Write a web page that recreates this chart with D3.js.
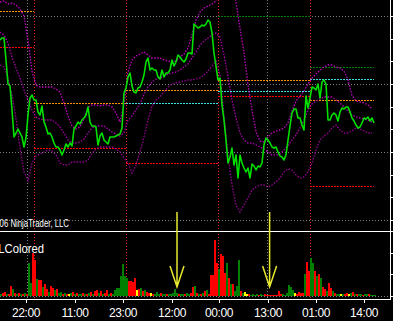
<!DOCTYPE html>
<html>
<head>
<meta charset="utf-8">
<script src="https://cdnjs.cloudflare.com/ajax/libs/d3/7.8.5/d3.min.js"></script>
<style>
    html, body { margin: 0; padding: 0; background: #000; overflow: hidden; }
    svg { display: block; }
    text { font-family: "Liberation Sans", Arial, sans-serif; fill: #fff; }
</style>
</head>
<body>
<svg></svg>
<script>
const width = 393;
const height = 321;

// one close per bar
const close = [
    190,192,192,170,146,144,120,93,97,101, 97,93,83,92,115,132,135,130,130,118,
    115,124,108,103,96,97,93,87,83,83, 80,75,80,86,83,87,84,101,104,108,
    106,110,112,115,123,108,104,104,103,85, 94,97,90,88,86,93,93,93,94,95,
    96,102,137,142,153,157,144,138,137,142, 143,148,155,168,172,160,162,160,160,153,
    151,160,153,157,157,160,170,164,168,175, 173,170,168,171,177,177,176,206,204,202,
    203,205,204,206,210,208,197,177,164,150, 152,125,110,90,67,73,82,65,75,52,
    75,67,62,58,62,52,66,64,60,64, 63,67,85,92,90,87,83,82,83,78,
    74,73,70,75,90,104,117,121,121,112, 112,105,100,134,122,132,143,142,140,146,
    132,148,150,146,110,110,115,117,115,109, 118,122,121,123,123,118,112,109,105,102,
    103,107,112,111,113,109,112,107
];

// bollinger lines, one value every 2 bars
const bandUpper = [
    228,229,226,227,225,221,214,190,159,145, 143,143,143,143,141,138,127,114,104,101,
    103,111,123,125,125,124,125,125,123,117, 108,125,158,170,174,176,178,175,172,172,
    172,170,169,168,169,173,176,182,195,210, 218,222,224,226,229,250,268,268,248,228,
    202,177,145,120,98,89,88,93,97,99, 100,102,107,119,129,134,139,146,152,156,
    160,163,165,165,163,162,159,150,135,129, 128,127,125,121
];
const bandMiddle = [
    198,195,187,173,162,152,140,130,120,113, 111,110,110,110,107,103,97,90,87,87,
    88,91,97,102,104,104,104,101,98,96, 94,97,110,114,120,126,136,143,148,151,
    152,154,156,157,158,160,163,166,172,178, 185,189,192,195,197,193,175,153,130,112,
    97,90,87,87,85,83,81,78,75,75, 76,80,84,90,95,102,110,120,126,129,
    131,133,133,133,130,127,123,119,115,113, 112,111,110,108
];
const bandLower = [
    165,163,152,135,112,82,58,49,67,74, 76,78,80,79,75,67,65,65,68,68,
    68,68,70,77,81,83,83,83,83,81, 78,72,67,57,65,78,93,110,124,130,
    133,138,143,146,147,148,149,150,150,151, 152,155,159,164,169,155,115,75,45,25,
    18,25,32,40,43,45,45,43,45,48, 52,58,61,60,55,52,53,58,67,80,
    90,94,97,102,105,100,97,97,99,102, 101,99,97,97
];

const volume = [
    2,3,4,2,2,10,7,3,2,3, 2,2,3,2,33,13,43,36,17,16,
    16,9,12,7,4,10,8,6,7,3, 4,2,3,2,2,3,4,2,3,2,
    2,3,2,2,3,4,2,5,6,3, 5,2,3,6,2,3,2,6,8,8,
    20,32,20,18,15,15,14,18,6,7, 8,5,6,4,3,3,2,2,4,2,
    3,2,2,2,2,2,3,7,3,2, 2,2,2,3,2,3,9,10,3,2,
    2,3,5,6,2,21,21,56,33,27, 42,40,23,33,18,12,12,5,10,36,
    5,3,4,2,2,1,2,1,2,1, 2,1,2,1,1,1,1,1,1,5,
    2,2,1,3,11,9,6,3,2,4, 3,3,22,34,25,38,33,25,20,22,
    18,9,7,5,13,8,5,3,2,2, 2,2,2,3,2,3,4,2,2,2,
    2,1,2,2,2,1,1,1
];
// g = up, r = down, y = unchanged
const volumeDir = (
    "grrgrrgrgr" + "grgrggrrgr" + "rgrrgrrgrg" + "grgrygrgrg" + "grgrgrgrrg" +
    "rgrrgrgggg" + "ggggrrrryr" + "grgrryrggg" + "rggrgggggr" + "ggrggrrgrg" +
    "rgrgrrrrrg" + "rrrgrgrggg" + "rgyyrggggr" + "ggrrrrrrrr" + "rggggggyrr" +
    "rrgrrggrgr" + "grrgrrgrgg" + "ygrrygrgrg" + "grggrggg"
).split("");

// session start bars (red dotted lines) and pivot levels per session
const sessionStart = [0, 17, 63, 109, 155];
const sessionEnd = [17, 63, 109, 155, 187];
const levelOrange = [219, 127, 140, 150, 130];
const levelRed = [183, 82, 67, 134, 44];
const levelCyan = [null, null, 127, 139, 151];
const levelGreen = [null, null, null, 214, 163];

const tickBars = [13, 37.5, 61.5, 86, 109.5, 134, 158, 182];
const tickLabels = ["22:00", "11:00", "23:00", "12:00", "00:00", "13:00", "01:00", "14:00"];
const gridBars = [13.5, 133.5];
const priceTicks = d3.range(10, 231, 68 / 3);
const volumeTicks = [0, 65 / 3, 130 / 3, 65];

// arrows drawn by hand on the chart, in volume units
const arrowBars = [88.5, 134.8];
const arrowTop = 84;
const arrowTip = 9;
const arrowWing = 30;

const axisX = 390.5;
const priceBottom = 231;
const axisBottom = 299;

const svg = d3.select("svg").attr("width", width).attr("height", height);

svg.append("rect").attr("width", width).attr("height", height).attr("fill", "#000");

const x = d3.scaleLinear().domain([0, 195]).range([0, 390]);
const y = d3.scaleLinear().domain([0, 230]).range([230, 0]);
const yVol = d3.scaleLinear().domain([0, 65]).range([296, 231]);

svg.append("clipPath").attr("id", "clip-price")
    .append("rect").attr("x", 0).attr("y", 0).attr("width", axisX).attr("height", priceBottom);

const grid = svg.append("g").attr("shape-rendering", "crispEdges");

// grey grid
grid.selectAll("line.hgrid")
    .data(priceTicks.filter((d, i) => i % 3 === 0).concat([null]))
    .enter()
    .append("line")
    .attr("x1", 0)
    .attr("x2", axisX)
    .attr("y1", d => (d === null ? yVol(0) : y(d)) + 0.5)
    .attr("y2", d => (d === null ? yVol(0) : y(d)) + 0.5)
    .attr("stroke", "#808080")
    .attr("stroke-dasharray", "1,2");

grid.selectAll("line.vgrid")
    .data(gridBars)
    .enter()
    .append("line")
    .attr("x1", d => Math.round(x(d)) + 0.5)
    .attr("x2", d => Math.round(x(d)) + 0.5)
    .attr("y1", 0)
    .attr("y2", axisBottom)
    .attr("stroke", "#808080")
    .attr("stroke-dasharray", "1,2");

// session breaks
grid.selectAll("line.session")
    .data(sessionStart.slice(1))
    .enter()
    .append("line")
    .attr("x1", d => x(d) + 0.5)
    .attr("x2", d => x(d) + 0.5)
    .attr("y1", 0)
    .attr("y2", axisBottom)
    .attr("stroke", "#ff2020")
    .attr("stroke-dasharray", "1,2");

// pivot levels
const levels = [
    { values: levelGreen, color: "#008000" },
    { values: levelOrange, color: "#ff9000" },
    { values: levelCyan, color: "#40e0e0" },
    { values: levelRed, color: "#ff0000" }
];
levels.forEach(lv => {
    const rows = lv.values
        .map((v, i) => ({ v: v, s: sessionStart[i], e: sessionEnd[i] }))
        .filter(d => d.v !== null);
    grid.selectAll(null)
        .data(rows)
        .enter()
        .append("line")
        .attr("x1", d => x(d.s))
        .attr("x2", d => x(d.e))
        .attr("y1", d => Math.round(y(d.v)) + 0.5)
        .attr("y2", d => Math.round(y(d.v)) + 0.5)
        .attr("stroke", lv.color)
        .attr("stroke-dasharray", "2,1");
});

// bands and price
const plot = svg.append("g").attr("clip-path", "url(#clip-price)");

const bandLine = d3.line()
    .x((d, i) => x(i * 2))
    .y(d => y(d));

[
    [bandUpper, "#c400c4"],
    [bandMiddle, "#a800ac"],
    [bandLower, "#940094"]
].forEach(b => {
    plot.append("path")
        .attr("d", bandLine(b[0]))
        .attr("fill", "none")
        .attr("stroke", b[1])
        .attr("stroke-width", 1.3)
        .attr("stroke-dasharray", "1.5,1.5");
});

const priceLine = d3.line()
    .x((d, i) => x(i))
    .y(d => y(d));

plot.append("path")
    .attr("d", priceLine(close))
    .attr("fill", "none")
    .attr("stroke", "#00e000")
    .attr("stroke-width", 1.6)
    .attr("stroke-linejoin", "round");

// volume
const volColors = { g: "#008000", r: "#ff0000", y: "#ffff00" };
svg.append("g")
    .attr("shape-rendering", "crispEdges")
    .selectAll("rect")
    .data(volume)
    .enter()
    .append("rect")
    .attr("x", (d, i) => x(i))
    .attr("width", 2)
    .attr("y", d => yVol(d))
    .attr("height", d => yVol(0) - yVol(d))
    .attr("fill", (d, i) => volColors[volumeDir[i]]);

// frame
const frame = svg.append("g").attr("stroke", "#fff").attr("shape-rendering", "crispEdges");
frame.append("line").attr("x1", 0).attr("x2", axisX).attr("y1", priceBottom + 0.5).attr("y2", priceBottom + 0.5);
frame.append("line").attr("x1", 0).attr("x2", axisX).attr("y1", axisBottom + 0.5).attr("y2", axisBottom + 0.5);
frame.append("line").attr("x1", axisX).attr("x2", axisX).attr("y1", 0).attr("y2", axisBottom + 1);

frame.selectAll("line.pt")
    .data(priceTicks)
    .enter()
    .append("line")
    .attr("x1", axisX)
    .attr("x2", width)
    .attr("y1", d => Math.round(y(d)) + 0.5)
    .attr("y2", d => Math.round(y(d)) + 0.5);

frame.selectAll("line.vt")
    .data(volumeTicks)
    .enter()
    .append("line")
    .attr("x1", axisX)
    .attr("x2", width)
    .attr("y1", d => Math.round(yVol(d)) + 0.5)
    .attr("y2", d => Math.round(yVol(d)) + 0.5);

frame.selectAll("line.xt")
    .data(tickBars)
    .enter()
    .append("line")
    .attr("x1", d => Math.round(x(d)) + 0.5)
    .attr("x2", d => Math.round(x(d)) + 0.5)
    .attr("y1", axisBottom)
    .attr("y2", axisBottom + 4);

svg.selectAll("text.xl")
    .data(tickBars)
    .enter()
    .append("text")
    .attr("x", d => x(d))
    .attr("y", 317)
    .attr("text-anchor", "middle")
    .attr("font-size", 12)
    .attr("letter-spacing", -0.4)
    .text((d, i) => tickLabels[i]);

// chart copyright, cut by the left edge like the original
svg.append("text")
    .attr("x", 69)
    .attr("y", 227)
    .attr("text-anchor", "end")
    .attr("font-size", 10)
    .attr("textLength", 86)
    .attr("lengthAdjust", "spacingAndGlyphs")
    .text("\u00a9 2006 NinjaTrader, LLC");

svg.append("text")
    .attr("x", 44)
    .attr("y", 253)
    .attr("text-anchor", "end")
    .attr("font-size", 12)
    .attr("textLength", 62)
    .attr("lengthAdjust", "spacingAndGlyphs")
    .text("VOLColored");

// arrows
const arrows = svg.append("g")
    .attr("stroke", "#e8e830")
    .attr("stroke-width", 1.5)
    .attr("fill", "none");

arrowBars.forEach(b => {
    const cx = x(b);
    arrows.append("path")
        .attr("d",
            `M ${cx} ${yVol(arrowTop)} L ${cx} ${yVol(arrowTip)}
             M ${cx - 7} ${yVol(arrowWing)} L ${cx} ${yVol(arrowTip)} L ${cx + 7} ${yVol(arrowWing)}`);
});
</script>
</body>
</html>
